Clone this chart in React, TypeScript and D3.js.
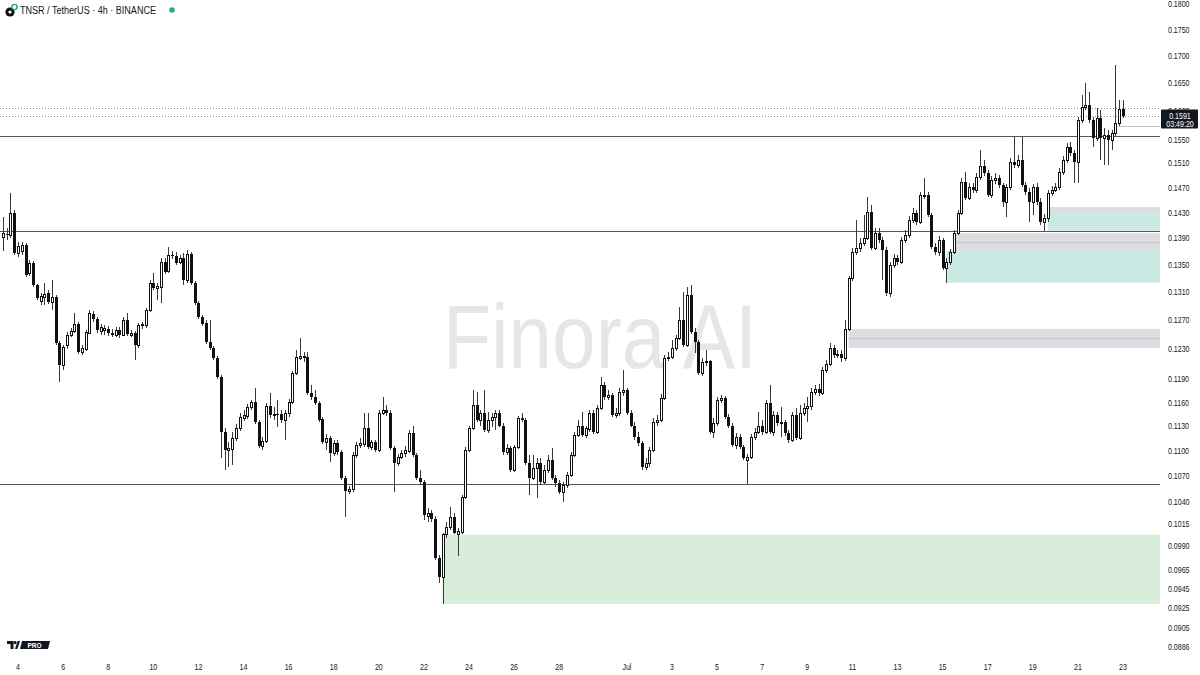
import React, { useEffect, useRef } from 'react';
import * as d3 from 'd3';

const WIDTH = 1200;
const HEIGHT = 675;
const PLOT_RIGHT = 1160;

// 4h candles, first visible bar opens 2025-06-03 08:00 UTC
const FIRST_BAR = Date.UTC(2025, 5, 3, 8);
const BAR_MS = 4 * 3600 * 1000;

const opens = [
  0.1392, 0.1397, 0.1395, 0.1430, 0.1368, 0.1371, 0.1380, 0.1338, 0.1353, 0.1321,
  0.1297, 0.1303, 0.1309, 0.1296, 0.1303, 0.1239, 0.1209, 0.1236, 0.1250, 0.1255,
  0.1265, 0.1227, 0.1231, 0.1252, 0.1279, 0.1272, 0.1255, 0.1256, 0.1258, 0.1252,
  0.1250, 0.1257, 0.1250, 0.1271, 0.1250, 0.1253, 0.1236, 0.1263, 0.1264, 0.1285,
  0.1324, 0.1316, 0.1318, 0.1354, 0.1341, 0.1365, 0.1363, 0.1354, 0.1360, 0.1328,
  0.1367, 0.1324, 0.1295, 0.1275, 0.1266, 0.1240, 0.1232, 0.1218, 0.1193, 0.1123,
  0.1101, 0.1102, 0.1116, 0.1128, 0.1141, 0.1143, 0.1154, 0.1161, 0.1135, 0.1106,
  0.1112, 0.1156, 0.1144, 0.1146, 0.1146, 0.1138, 0.1147, 0.1161, 0.1198, 0.1219,
  0.1221, 0.1220, 0.1172, 0.1167, 0.1160, 0.1139, 0.1111, 0.1116, 0.1097, 0.1110,
  0.1099, 0.1068, 0.1052, 0.1054, 0.1095, 0.1107, 0.1108, 0.1128, 0.1105, 0.1111,
  0.1101, 0.1147, 0.1151, 0.1147, 0.1103, 0.1085, 0.1092, 0.1097, 0.1100, 0.1122,
  0.1095, 0.1068, 0.1063, 0.1024, 0.1027, 0.1020, 0.0977, 0.0957, 0.1003, 0.1011,
  0.1023, 0.1004, 0.1006, 0.1045, 0.1101, 0.1128, 0.1157, 0.1138, 0.1147, 0.1126,
  0.1138, 0.1142, 0.1147, 0.1131, 0.1099, 0.1103, 0.1077, 0.1105, 0.1141, 0.1138,
  0.1085, 0.1068, 0.1079, 0.1085, 0.1063, 0.1077, 0.1089, 0.1068, 0.1062, 0.1051,
  0.1059, 0.1071, 0.1095, 0.1119, 0.1131, 0.1119, 0.1127, 0.1147, 0.1123, 0.1153,
  0.1183, 0.1167, 0.1170, 0.1144, 0.1147, 0.1174, 0.1176, 0.1147, 0.1131, 0.1117,
  0.1110, 0.1081, 0.1085, 0.1101, 0.1135, 0.1138, 0.1166, 0.1218, 0.1220, 0.1232,
  0.1246, 0.1271, 0.1236, 0.1306, 0.1254, 0.1240, 0.1198, 0.1213, 0.1214, 0.1123,
  0.1134, 0.1163, 0.1166, 0.1142, 0.1131, 0.1107, 0.1117, 0.1105, 0.1089, 0.1093,
  0.1117, 0.1123, 0.1131, 0.1123, 0.1160, 0.1123, 0.1144, 0.1134, 0.1136, 0.1122,
  0.1113, 0.1144, 0.1116, 0.1147, 0.1153, 0.1155, 0.1174, 0.1178, 0.1172, 0.1202,
  0.1210, 0.1232, 0.1222, 0.1224, 0.1218, 0.1258, 0.1331, 0.1370, 0.1376, 0.1383,
  0.1391, 0.1431, 0.1376, 0.1398, 0.1388, 0.1373, 0.1309, 0.1350, 0.1360, 0.1354,
  0.1388, 0.1395, 0.1419, 0.1430, 0.1416, 0.1458, 0.1459, 0.1427, 0.1377, 0.1370,
  0.1388, 0.1346, 0.1354, 0.1370, 0.1398, 0.1430, 0.1479, 0.1453, 0.1471, 0.1466,
  0.1488, 0.1506, 0.1494, 0.1458, 0.1483, 0.1486, 0.1474, 0.1447, 0.1471, 0.1512,
  0.1507, 0.1516, 0.1474, 0.1463, 0.1447, 0.1471, 0.1447, 0.1416, 0.1422, 0.1462,
  0.1466, 0.1471, 0.1496, 0.1516, 0.1537, 0.1527, 0.1512, 0.1584, 0.1607, 0.1611,
  0.1584, 0.1553, 0.1587, 0.1553, 0.1558, 0.1549, 0.1561, 0.1579, 0.1603,
];

const highs = [
  0.1423, 0.1406, 0.1462, 0.1434, 0.1385, 0.1385, 0.1383, 0.1357, 0.1356, 0.1322,
  0.1309, 0.1324, 0.1313, 0.1328, 0.1306, 0.1242, 0.1236, 0.1254, 0.1260, 0.1280,
  0.1268, 0.1236, 0.1257, 0.1285, 0.1283, 0.1275, 0.1265, 0.1264, 0.1262, 0.1258,
  0.1261, 0.1261, 0.1275, 0.1280, 0.1257, 0.1255, 0.1267, 0.1268, 0.1288, 0.1328,
  0.1338, 0.1324, 0.1360, 0.1360, 0.1377, 0.1371, 0.1369, 0.1365, 0.1368, 0.1373,
  0.1370, 0.1326, 0.1298, 0.1278, 0.1271, 0.1271, 0.1234, 0.1221, 0.1196, 0.1128,
  0.1111, 0.1123, 0.1133, 0.1147, 0.1151, 0.1158, 0.1163, 0.1179, 0.1138, 0.1117,
  0.1160, 0.1172, 0.1154, 0.1163, 0.1151, 0.1151, 0.1165, 0.1201, 0.1229, 0.1246,
  0.1227, 0.1227, 0.1183, 0.1176, 0.1162, 0.1142, 0.1121, 0.1118, 0.1113, 0.1113,
  0.1101, 0.1070, 0.1058, 0.1099, 0.1111, 0.1116, 0.1147, 0.1147, 0.1113, 0.1113,
  0.1151, 0.1167, 0.1157, 0.1151, 0.1106, 0.1096, 0.1101, 0.1106, 0.1126, 0.1131,
  0.1097, 0.1077, 0.1065, 0.1033, 0.1031, 0.1024, 0.0981, 0.1005, 0.1017, 0.1034,
  0.1027, 0.1010, 0.1048, 0.1105, 0.1131, 0.1176, 0.1174, 0.1151, 0.1176, 0.1148,
  0.1147, 0.1151, 0.1151, 0.1134, 0.1108, 0.1106, 0.1107, 0.1143, 0.1147, 0.1141,
  0.1095, 0.1095, 0.1091, 0.1091, 0.1083, 0.1095, 0.1103, 0.1071, 0.1065, 0.1063,
  0.1075, 0.1099, 0.1123, 0.1138, 0.1148, 0.1131, 0.1151, 0.1151, 0.1157, 0.1193,
  0.1187, 0.1176, 0.1172, 0.1153, 0.1179, 0.1202, 0.1179, 0.1151, 0.1135, 0.1123,
  0.1112, 0.1091, 0.1105, 0.1141, 0.1144, 0.1171, 0.1222, 0.1227, 0.1243, 0.1250,
  0.1289, 0.1310, 0.1318, 0.1321, 0.1260, 0.1243, 0.1218, 0.1229, 0.1216, 0.1141,
  0.1167, 0.1170, 0.1168, 0.1146, 0.1134, 0.1122, 0.1121, 0.1107, 0.1096, 0.1121,
  0.1128, 0.1148, 0.1138, 0.1163, 0.1183, 0.1149, 0.1148, 0.1154, 0.1138, 0.1126,
  0.1148, 0.1153, 0.1157, 0.1160, 0.1167, 0.1179, 0.1183, 0.1184, 0.1206, 0.1216,
  0.1239, 0.1236, 0.1229, 0.1229, 0.1271, 0.1334, 0.1376, 0.1419, 0.1391, 0.1427,
  0.1455, 0.1442, 0.1406, 0.1406, 0.1392, 0.1377, 0.1354, 0.1367, 0.1365, 0.1392,
  0.1403, 0.1425, 0.1438, 0.1434, 0.1463, 0.1486, 0.1463, 0.1430, 0.1383, 0.1394,
  0.1391, 0.1360, 0.1374, 0.1403, 0.1434, 0.1486, 0.1496, 0.1478, 0.1478, 0.1494,
  0.1532, 0.1516, 0.1499, 0.1489, 0.1494, 0.1491, 0.1478, 0.1476, 0.1519, 0.1555,
  0.1524, 0.1555, 0.1479, 0.1470, 0.1476, 0.1478, 0.1453, 0.1428, 0.1466, 0.1473,
  0.1478, 0.1502, 0.1522, 0.1544, 0.1546, 0.1532, 0.1589, 0.1628, 0.1650, 0.1634,
  0.1589, 0.1605, 0.1602, 0.1570, 0.1567, 0.1567, 0.1683, 0.1619, 0.1619,
];

const lows = [
  0.1371, 0.1388, 0.1391, 0.1365, 0.1362, 0.1365, 0.1332, 0.1334, 0.1318, 0.1299,
  0.1292, 0.1292, 0.1293, 0.1285, 0.1236, 0.1187, 0.1202, 0.1231, 0.1247, 0.1252,
  0.1224, 0.1222, 0.1228, 0.1251, 0.1268, 0.1252, 0.1250, 0.1250, 0.1248, 0.1247,
  0.1247, 0.1246, 0.1248, 0.1248, 0.1247, 0.1216, 0.1232, 0.1258, 0.1260, 0.1282,
  0.1313, 0.1299, 0.1295, 0.1337, 0.1338, 0.1359, 0.1350, 0.1351, 0.1321, 0.1324,
  0.1321, 0.1292, 0.1272, 0.1262, 0.1237, 0.1229, 0.1216, 0.1191, 0.1091, 0.1077,
  0.1081, 0.1083, 0.1112, 0.1124, 0.1137, 0.1139, 0.1151, 0.1133, 0.1103, 0.1101,
  0.1109, 0.1141, 0.1138, 0.1129, 0.1134, 0.1113, 0.1142, 0.1158, 0.1196, 0.1216,
  0.1213, 0.1170, 0.1163, 0.1157, 0.1135, 0.1108, 0.1101, 0.1087, 0.1094, 0.1095,
  0.1065, 0.1023, 0.1049, 0.1051, 0.1091, 0.1103, 0.1105, 0.1102, 0.1101, 0.1099,
  0.1099, 0.1144, 0.1143, 0.1101, 0.1051, 0.1082, 0.1090, 0.1092, 0.1097, 0.1092,
  0.1065, 0.1059, 0.1019, 0.1017, 0.1017, 0.0975, 0.0951, 0.0929, 0.0999, 0.1008,
  0.1003, 0.0979, 0.1003, 0.1043, 0.1099, 0.1126, 0.1135, 0.1131, 0.1123, 0.1122,
  0.1129, 0.1126, 0.1129, 0.1095, 0.1095, 0.1075, 0.1075, 0.1102, 0.1135, 0.1083,
  0.1048, 0.1065, 0.1044, 0.1059, 0.1060, 0.1073, 0.1065, 0.1057, 0.1049, 0.1039,
  0.1056, 0.1069, 0.1092, 0.1117, 0.1117, 0.1116, 0.1123, 0.1121, 0.1121, 0.1151,
  0.1163, 0.1163, 0.1142, 0.1141, 0.1143, 0.1168, 0.1144, 0.1129, 0.1113, 0.1106,
  0.1077, 0.1077, 0.1081, 0.1099, 0.1131, 0.1135, 0.1163, 0.1214, 0.1217, 0.1228,
  0.1243, 0.1233, 0.1233, 0.1251, 0.1225, 0.1196, 0.1195, 0.1208, 0.1121, 0.1116,
  0.1131, 0.1160, 0.1139, 0.1128, 0.1105, 0.1102, 0.1102, 0.1089, 0.1060, 0.1090,
  0.1113, 0.1121, 0.1119, 0.1121, 0.1121, 0.1118, 0.1130, 0.1117, 0.1118, 0.1110,
  0.1111, 0.1113, 0.1113, 0.1143, 0.1135, 0.1151, 0.1170, 0.1168, 0.1170, 0.1198,
  0.1208, 0.1218, 0.1218, 0.1213, 0.1214, 0.1255, 0.1326, 0.1365, 0.1370, 0.1379,
  0.1388, 0.1373, 0.1373, 0.1383, 0.1328, 0.1305, 0.1303, 0.1346, 0.1350, 0.1351,
  0.1383, 0.1391, 0.1414, 0.1411, 0.1412, 0.1452, 0.1423, 0.1374, 0.1365, 0.1364,
  0.1343, 0.1324, 0.1350, 0.1367, 0.1395, 0.1427, 0.1450, 0.1450, 0.1462, 0.1462,
  0.1483, 0.1489, 0.1455, 0.1453, 0.1476, 0.1469, 0.1439, 0.1423, 0.1466, 0.1502,
  0.1502, 0.1471, 0.1458, 0.1416, 0.1427, 0.1442, 0.1411, 0.1402, 0.1416, 0.1457,
  0.1463, 0.1466, 0.1491, 0.1511, 0.1522, 0.1478, 0.1478, 0.1579, 0.1602, 0.1579,
  0.1538, 0.1548, 0.1516, 0.1507, 0.1507, 0.1532, 0.1556, 0.1574, 0.1588,
];

const closes = [
  0.1398, 0.1395, 0.1430, 0.1368, 0.1379, 0.1380, 0.1335, 0.1353, 0.1321, 0.1302,
  0.1305, 0.1308, 0.1296, 0.1303, 0.1239, 0.1209, 0.1233, 0.1250, 0.1255, 0.1265,
  0.1227, 0.1232, 0.1254, 0.1280, 0.1272, 0.1257, 0.1261, 0.1259, 0.1252, 0.1250,
  0.1257, 0.1250, 0.1271, 0.1251, 0.1253, 0.1236, 0.1264, 0.1265, 0.1285, 0.1324,
  0.1316, 0.1319, 0.1354, 0.1340, 0.1365, 0.1363, 0.1353, 0.1360, 0.1328, 0.1367,
  0.1324, 0.1295, 0.1275, 0.1265, 0.1240, 0.1232, 0.1218, 0.1193, 0.1123, 0.1101,
  0.1103, 0.1116, 0.1128, 0.1142, 0.1144, 0.1154, 0.1161, 0.1135, 0.1106, 0.1112,
  0.1156, 0.1144, 0.1146, 0.1144, 0.1138, 0.1147, 0.1161, 0.1198, 0.1220, 0.1221,
  0.1219, 0.1172, 0.1167, 0.1160, 0.1138, 0.1111, 0.1116, 0.1097, 0.1110, 0.1099,
  0.1068, 0.1052, 0.1055, 0.1095, 0.1107, 0.1109, 0.1128, 0.1105, 0.1111, 0.1101,
  0.1147, 0.1151, 0.1147, 0.1103, 0.1085, 0.1092, 0.1097, 0.1101, 0.1122, 0.1095,
  0.1068, 0.1063, 0.1025, 0.1027, 0.1020, 0.0977, 0.0957, 0.1003, 0.1011, 0.1023,
  0.1005, 0.1007, 0.1045, 0.1101, 0.1128, 0.1157, 0.1138, 0.1147, 0.1126, 0.1138,
  0.1142, 0.1147, 0.1131, 0.1099, 0.1103, 0.1077, 0.1105, 0.1141, 0.1138, 0.1085,
  0.1068, 0.1079, 0.1085, 0.1063, 0.1077, 0.1089, 0.1068, 0.1062, 0.1051, 0.1059,
  0.1071, 0.1095, 0.1119, 0.1131, 0.1119, 0.1128, 0.1147, 0.1123, 0.1153, 0.1183,
  0.1167, 0.1170, 0.1144, 0.1147, 0.1174, 0.1176, 0.1147, 0.1131, 0.1117, 0.1110,
  0.1081, 0.1085, 0.1101, 0.1135, 0.1138, 0.1166, 0.1218, 0.1220, 0.1232, 0.1246,
  0.1271, 0.1236, 0.1306, 0.1254, 0.1240, 0.1198, 0.1213, 0.1214, 0.1123, 0.1134,
  0.1163, 0.1166, 0.1142, 0.1131, 0.1107, 0.1117, 0.1105, 0.1091, 0.1093, 0.1117,
  0.1123, 0.1131, 0.1123, 0.1160, 0.1123, 0.1144, 0.1134, 0.1136, 0.1122, 0.1113,
  0.1144, 0.1116, 0.1147, 0.1153, 0.1155, 0.1174, 0.1178, 0.1172, 0.1202, 0.1210,
  0.1232, 0.1222, 0.1224, 0.1218, 0.1258, 0.1331, 0.1370, 0.1376, 0.1383, 0.1391,
  0.1431, 0.1376, 0.1398, 0.1388, 0.1373, 0.1309, 0.1350, 0.1360, 0.1354, 0.1388,
  0.1395, 0.1419, 0.1430, 0.1416, 0.1458, 0.1459, 0.1427, 0.1377, 0.1370, 0.1388,
  0.1346, 0.1354, 0.1370, 0.1398, 0.1430, 0.1479, 0.1453, 0.1471, 0.1466, 0.1488,
  0.1506, 0.1494, 0.1458, 0.1483, 0.1486, 0.1474, 0.1447, 0.1471, 0.1512, 0.1507,
  0.1516, 0.1474, 0.1463, 0.1447, 0.1471, 0.1447, 0.1416, 0.1422, 0.1462, 0.1466,
  0.1471, 0.1496, 0.1516, 0.1537, 0.1527, 0.1512, 0.1584, 0.1607, 0.1611, 0.1584,
  0.1553, 0.1587, 0.1553, 0.1558, 0.1549, 0.1561, 0.1579, 0.1603, 0.1591,
];

// right price scale labels
const priceTicks = [
  0.18, 0.175, 0.17, 0.165, 0.16, 0.155, 0.151, 0.147, 0.143, 0.139, 0.135, 0.131, 0.127,
  0.123, 0.119, 0.116, 0.113, 0.11, 0.107, 0.104, 0.1015, 0.099, 0.0965, 0.0945, 0.0925,
  0.0905, 0.0886,
];

// bottom time labels
const juneTickDays = [4, 6, 8, 10, 12, 14, 16, 18, 20, 22, 24, 26, 28];
const julyTickDays = [1, 3, 5, 7, 9, 11, 13, 15, 17, 19, 21, 23];

// horizontal levels drawn on the chart
const solidLevels = [0.1556, 0.1401, 0.106];
const dottedLevels = [0.1605, 0.1591];
const prevCloseLevel = 0.1573;

// supply / demand boxes: start bar, top, bottom
const demandZones = [
  { start: Date.UTC(2025, 5, 22, 20), top: 0.1003, bottom: 0.0929, fill: '#d8eedb' },
  { start: Date.UTC(2025, 6, 15, 4), top: 0.1371, bottom: 0.1324, fill: '#cbe9e3' },
  { start: Date.UTC(2025, 6, 19, 16), top: 0.143, bottom: 0.1402, fill: '#cbe9e3' },
];
const grayZones = [
  { start: Date.UTC(2025, 6, 10, 20), top: 0.1258, bottom: 0.1232, mid: 0.1246 },
  { start: Date.UTC(2025, 6, 15, 12), top: 0.1398, bottom: 0.1371, mid: 0.1385 },
  { start: Date.UTC(2025, 6, 19, 16), top: 0.1439, bottom: 0.143, mid: null },
];

const lastPrice = 0.1591;
const countdown = '03:49:20';

const INK = '#111111';
const WICK = '#3a3a3a';
const TEXT = '#131722';
const FONT = '"Liberation Sans", Arial, sans-serif';

export default function App() {
  const svgRef = useRef<SVGSVGElement>(null);

  useEffect(() => {
    if (!svgRef.current) return;
    const svg = d3.select(svgRef.current);
    svg.selectAll('*').remove();

    const times = closes.map((_, i) => new Date(FIRST_BAR + i * BAR_MS));

    const x = d3.scaleUtc()
      .domain([new Date(Date.UTC(2025, 5, 4)), new Date(Date.UTC(2025, 6, 23))])
      .range([18, 1123]);

    const y = d3.scaleLog()
      .domain([0.0886, 0.18])
      .range([647, 4]);

    svg.append('rect').attr('width', WIDTH).attr('height', HEIGHT).attr('fill', '#fff');

    svg.append('defs').append('clipPath').attr('id', 'plot')
      .append('rect').attr('x', 0).attr('y', 0).attr('width', PLOT_RIGHT).attr('height', 655);

    const plot = svg.append('g').attr('clip-path', 'url(#plot)');

    // watermark
    plot.append('text')
      .attr('x', 443).attr('y', 368)
      .attr('font-family', FONT).attr('font-size', 90)
      .attr('textLength', 314).attr('lengthAdjust', 'spacingAndGlyphs')
      .attr('fill', '#e6e6e6')
      .text('Finora AI');

    // zones
    demandZones.forEach(z => {
      const x0 = x(new Date(z.start));
      plot.append('rect')
        .attr('x', x0).attr('y', y(z.top))
        .attr('width', PLOT_RIGHT - x0).attr('height', y(z.bottom) - y(z.top))
        .attr('fill', z.fill);
    });
    grayZones.forEach(z => {
      const x0 = x(new Date(z.start));
      plot.append('rect')
        .attr('x', x0).attr('y', y(z.top))
        .attr('width', PLOT_RIGHT - x0).attr('height', y(z.bottom) - y(z.top))
        .attr('fill', '#dcdce1');
      if (z.mid !== null) {
        plot.append('line')
          .attr('x1', x0).attr('x2', PLOT_RIGHT)
          .attr('y1', Math.round(y(z.mid)) + 0.5).attr('y2', Math.round(y(z.mid)) + 0.5)
          .attr('stroke', '#c6c6ce');
      }
    });

    // levels
    solidLevels.forEach(p => {
      const yy = Math.round(y(p)) + 0.5;
      plot.append('line')
        .attr('x1', 0).attr('x2', PLOT_RIGHT).attr('y1', yy).attr('y2', yy)
        .attr('stroke', '#555').attr('stroke-width', 1);
    });
    dottedLevels.forEach(p => {
      const yy = Math.round(y(p)) + 0.5;
      plot.append('line')
        .attr('x1', 0).attr('x2', PLOT_RIGHT).attr('y1', yy).attr('y2', yy)
        .attr('stroke', '#8a8a8a').attr('stroke-dasharray', '1,2');
    });
    {
      const yy = Math.round(y(prevCloseLevel)) + 0.5;
      plot.append('line')
        .attr('x1', x(times[times.length - 2])).attr('x2', PLOT_RIGHT)
        .attr('y1', yy).attr('y2', yy)
        .attr('stroke', '#c4c4c4');
    }

    // candles
    const bars = plot.append('g').attr('shape-rendering', 'crispEdges');
    closes.forEach((c, i) => {
      const o = opens[i];
      const h = Math.max(highs[i], o, c);
      const l = Math.min(lows[i], o, c);
      const cx = Math.round(x(times[i]));
      bars.append('line')
        .attr('x1', cx + 0.5).attr('x2', cx + 0.5)
        .attr('y1', Math.round(y(h))).attr('y2', Math.round(y(l)))
        .attr('stroke', WICK);
      const top = Math.round(y(Math.max(o, c)));
      const bot = Math.round(y(Math.min(o, c)));
      if (c >= o) {
        bars.append('rect')
          .attr('x', cx - 0.5).attr('y', top + 0.5)
          .attr('width', 2).attr('height', Math.max(bot - top, 1))
          .attr('fill', '#fff').attr('stroke', INK);
      } else {
        bars.append('rect')
          .attr('x', cx - 1).attr('y', top)
          .attr('width', 3).attr('height', Math.max(bot - top, 1))
          .attr('fill', INK);
      }
    });

    // squeezed axis text
    const label = (
      parent: d3.Selection<any, unknown, null, undefined>,
      tx: number, ty: number, text: string, anchor: string, size = 8.5, fill = TEXT,
    ) => parent.append('text')
      .attr('transform', `translate(${tx},${ty}) scale(0.83,1)`)
      .attr('text-anchor', anchor)
      .attr('font-family', FONT).attr('font-size', size)
      .attr('fill', fill)
      .text(text);

    // right price scale
    const axis = svg.append('g');
    priceTicks.forEach(p => {
      label(axis, 1168, y(p) + 3, p.toFixed(4), 'start');
    });

    // last price badge
    const yLast = y(lastPrice);
    axis.append('rect')
      .attr('x', 1161).attr('y', yLast - 6.5)
      .attr('width', 37).attr('height', 19).attr('rx', 1)
      .attr('fill', TEXT);
    label(axis, 1180, yLast + 3, lastPrice.toFixed(4), 'middle', 8.5, '#fff');
    label(axis, 1180, yLast + 11.5, countdown, 'middle', 8.5, '#fff');

    // bottom time scale
    juneTickDays.forEach(d => {
      label(axis, x(new Date(Date.UTC(2025, 5, d))), 670, String(d), 'middle');
    });
    julyTickDays.forEach(d => {
      label(axis, x(new Date(Date.UTC(2025, 6, d))), 670, d === 1 ? 'Jul' : String(d), 'middle');
    });

    // header
    const head = svg.append('g');
    head.append('circle').attr('cx', 10).attr('cy', 12).attr('r', 4.6).attr('fill', INK);
    head.append('circle').attr('cx', 10).attr('cy', 12).attr('r', 1.6).attr('fill', '#fff');
    head.append('circle').attr('cx', 14.5).attr('cy', 7).attr('r', 2.6)
      .attr('fill', '#fff').attr('stroke', '#1f9d8b').attr('stroke-width', 1.4);
    head.append('text')
      .attr('x', 20).attr('y', 14)
      .attr('font-family', FONT).attr('font-size', 10)
      .attr('textLength', 136).attr('lengthAdjust', 'spacingAndGlyphs')
      .attr('fill', TEXT)
      .text('TNSR / TetherUS · 4h · BINANCE');
    head.append('circle').attr('cx', 172).attr('cy', 10).attr('r', 2.8).attr('fill', '#22ab94');

    // TradingView PRO mark
    const logo = svg.append('g').attr('fill', TEXT);
    logo.append('path').attr('d', 'M7,641 H13.5 V649 H10.5 V644 H7 Z');
    logo.append('circle').attr('cx', 15).attr('cy', 642.6).attr('r', 1.6);
    logo.append('path').attr('d', 'M15,649 L17.6,641 H20 L17.4,649 Z');
    logo.append('path').attr('d', 'M22,641 H50 L48,649 H20 Z');
    logo.append('text')
      .attr('x', 34.5).attr('y', 647.6)
      .attr('text-anchor', 'middle')
      .attr('font-family', FONT).attr('font-size', 6.5).attr('font-weight', 700)
      .attr('fill', '#fff')
      .text('PRO');
  }, []);

  return (
    <svg
      ref={svgRef}
      width={WIDTH}
      height={HEIGHT}
      style={{ position: 'absolute', left: 0, top: 0, display: 'block' }}
    />
  );
}
